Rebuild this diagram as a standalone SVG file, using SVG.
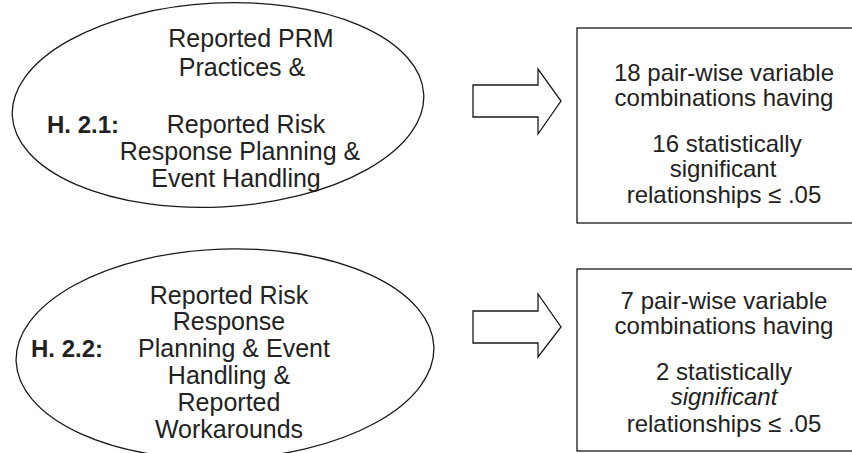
<svg xmlns="http://www.w3.org/2000/svg" width="852" height="453" viewBox="0 0 852 453">
<style>
.shape{fill:none;stroke:#1a1a1a;stroke-width:1.3}
.t{font-family:"Liberation Sans",Arial,sans-serif;font-size:25px;fill:#222;text-anchor:middle}
.b{font-family:"Liberation Sans",Arial,sans-serif;font-size:24px;fill:#222;text-anchor:middle}
.h{font-family:"Liberation Sans",Arial,sans-serif;font-size:24px;font-weight:bold;fill:#222}
</style>
<rect width="852" height="453" fill="#ffffff"/>
<g id="h21">
<ellipse class="shape" cx="218" cy="105" rx="206" ry="102" transform="rotate(-3 218 105)"/>
<text class="t" x="251" y="47">Reported PRM</text>
<text class="t" x="242" y="76">Practices &amp;</text>
<text class="h" x="47" y="133">H. 2.1:</text>
<text class="t" x="246" y="133">Reported Risk</text>
<text class="t" x="240" y="160">Response Planning &amp;</text>
<text class="t" x="236" y="187">Event Handling</text>
</g>
<g id="h22">
<ellipse class="shape" cx="225" cy="354" rx="209" ry="105" transform="rotate(-2 225 354)"/>
<text class="t" x="229" y="304">Reported Risk</text>
<text class="t" x="229" y="330">Response</text>
<text class="h" x="31" y="357">H. 2.2:</text>
<text class="t" x="234" y="357">Planning &amp; Event</text>
<text class="t" x="229" y="384">Handling &amp;</text>
<text class="t" x="229" y="411">Reported</text>
<text class="t" x="229" y="438">Workarounds</text>
</g>
<g id="r21">
<rect class="shape" x="577" y="28" width="300" height="195"/>
<text class="b" x="724" y="81">18 pair-wise variable</text>
<text class="b" x="724" y="106">combinations having</text>
<text class="b" x="727" y="152">16 statistically</text>
<text class="b" x="723" y="177">significant</text>
<text class="b" x="724" y="203">relationships ≤ .05</text>
</g>
<g id="r22">
<rect class="shape" x="577" y="269" width="300" height="182"/>
<text class="b" x="724" y="309">7 pair-wise variable</text>
<text class="b" x="724" y="334">combinations having</text>
<text class="b" x="724" y="380">2 statistically</text>
<text class="b" x="724" y="405" font-style="italic">significant</text>
<text class="b" x="724" y="432">relationships ≤ .05</text>
</g>
<g id="connectors">
<polygon class="shape" points="473,85 538,85 538,69 561,101 538,134 538,117 473,117"/>
<polygon class="shape" points="473,311 538,311 538,294 561,327 538,357 538,343 473,343"/>
</g>
</svg>
